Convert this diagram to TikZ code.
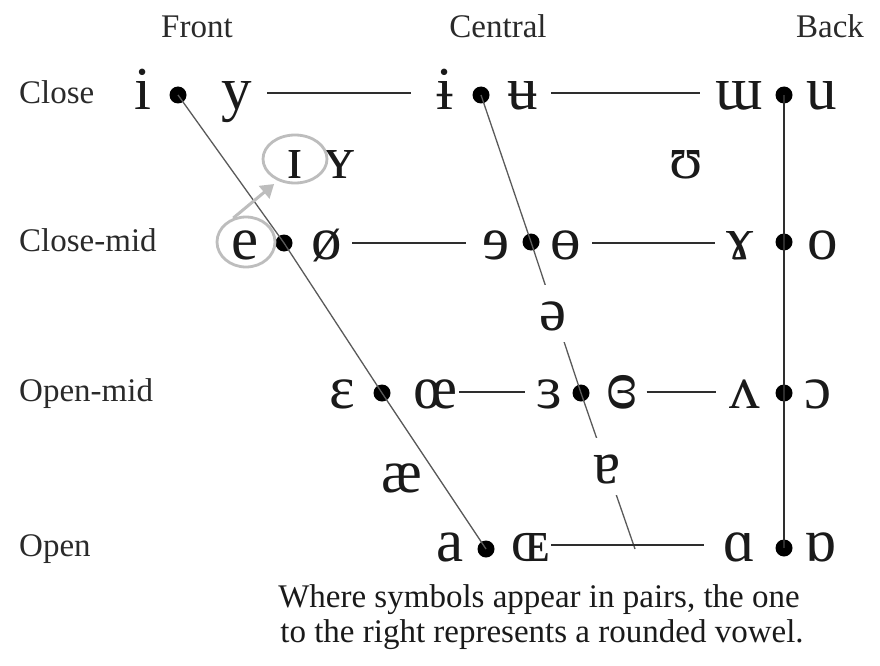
\documentclass[tikz,border=0pt]{standalone}
\usepackage{fontspec}
\setmainfont{Liberation Serif}
\usetikzlibrary{shapes.geometric,arrows.meta}
\definecolor{ink}{HTML}{1A1A1A}
\definecolor{labc}{HTML}{2A2A2A}
\definecolor{hlc}{HTML}{2E2E2E}
\definecolor{dgc}{HTML}{5A5A5A}
\definecolor{ringc}{HTML}{BDBDBD}
\begin{document}
\begin{tikzpicture}[x=1pt,y=-1pt,
  sym/.style={font=\fontsize{61}{61}\selectfont, text=ink, inner sep=0pt, text height=37pt, text depth=4pt, anchor=base},
  rowlab/.style={font=\fontsize{33}{33}\selectfont, text=labc, inner sep=0pt, anchor=base west},
  collab/.style={font=\fontsize{33}{33}\selectfont, text=labc, inner sep=0pt, anchor=base},
  note/.style={font=\fontsize{33}{33}\selectfont, text=ink, inner sep=0pt, anchor=base},
  vdot/.style={circle, fill=black, inner sep=0pt, minimum size=17pt},
  hline/.style={draw=hlc, line width=2pt},
  diag/.style={draw=dgc, line width=1.3pt},
  backline/.style={draw=hlc, line width=2.5pt},
  ring/.style={draw=ringc, line width=2.8pt, ellipse, inner sep=0pt},
  gapsym/.style={sym, fill=white, inner xsep=6pt, inner ysep=8pt}
]
\useasboundingbox (0,0) rectangle (880,666);
\fill[white] (0,0) rectangle (880,666);

% column and row labels
\node[collab] (front) at (197,38) {Front};
\node[collab] (central) at (498,38) {Central};
\node[collab] (back) at (830,38) {Back};
\node[rowlab] (close) at (19,103) {Close};
\node[rowlab] (closemid) at (19,251) {Close-mid};
\node[rowlab] (openmid) at (19,401) {Open-mid};
\node[rowlab] (open) at (19,556) {Open};

% dots
\node[vdot] (d1) at (178,95) {};
\node[vdot] (d2) at (481,95) {};
\node[vdot] (d3) at (784,95) {};
\node[vdot] (d4) at (284,243) {};
\node[vdot] (d5) at (531,242) {};
\node[vdot] (d6) at (784,242) {};
\node[vdot] (d7) at (382,393) {};
\node[vdot] (d8) at (581,393) {};
\node[vdot] (d9) at (784,393) {};
\node[vdot] (d10) at (486,549) {};
\node[vdot] (d11) at (784,548) {};
\coordinate (cend) at (635,549);

% skeleton lines
\draw[diag] (d1.center) -- (d4.center) -- (d7.center) -- (d10.center);
\draw[diag] (d2.center) -- (d5.center) -- (d8.center) -- (cend);
\draw[backline] (d3.center) -- (d11.center);

% close
\node[sym] (i) at (143,110) {i};
\node[sym] (y) at (237,110) {y};
\node[sym] (ibar) at (445,110) {ɨ};
\node[sym] (ubar) at (523,110) {ʉ};
\node[sym] (mu) at (739,110) {ɯ};
\node[sym] (u) at (822,110) {u};
% near-close
\node[sym] (smallI) at (295,178) {ɪ};
\node[sym] (smallY) at (340,178) {ʏ};
\node[sym] (upsilon) at (686,178) {ʊ};
% close-mid
\node[sym] (e) at (245,259) {e};
\node[sym] (oslash) at (327,259) {ø};
\node[sym] (revE) at (496,259) {ɘ};
\node[sym] (barO) at (566,259) {ɵ};
\node[sym] (gamma) at (740,259) {ɤ};
\node[sym] (o) at (823,259) {o};
% mid
\node[gapsym] (schwa) at (553,330) {ə};
% open-mid
\node[sym] (epsilon) at (342,408) {ɛ};
\node[sym] (oe) at (436,408) {œ};
\node[sym] (revEps) at (549,408) {ɜ};
\node[sym] (closedRevEps) at (622,408) {\scalebox{1.15}{ɞ}};
\node[sym] (wedge) at (745,408) {ʌ};
\node[sym] (openO) at (818,408) {ɔ};
% near-open
\node[sym] (ash) at (402,492) {æ};
\node[gapsym] (turnedA) at (607,483) {ɐ};
% open
\node[sym] (a) at (450,561) {a};
\node[sym] (OE) at (531,561) {ɶ};
\node[sym] (alpha) at (739,561) {ɑ};
\node[sym] (turnedAlpha) at (820,561) {ɒ};

% horizontal connectors
\draw[hline, shorten <=15pt, shorten >=25pt] (y.east) -- (ibar.west);
\draw[hline, shorten <=13pt, shorten >=15pt] (ubar.east) -- (mu.west);
\draw[hline, shorten <=10pt, shorten >=16pt] (oslash.east) -- (revE.west);
\draw[hline, shorten <=11pt, shorten >=11pt] (barO.east) -- (gamma.west);
\draw[hline, shorten <=1pt, shorten >=11pt] (oe.east) -- (revEps.west);
\draw[hline, shorten <=9pt, shorten >=14pt] (closedRevEps.east) -- (wedge.west);
\draw[hline, shorten <=1pt, shorten >=19pt] (OE.east) -- (alpha.west);

% highlight rings and arrow
\node[ring, minimum width=64pt, minimum height=48pt] (ringI) at (295,159) {};
\node[ring, minimum width=58pt, minimum height=50pt] (ringE) at (246,242) {};
\draw[draw=ringc, fill=ringc, line width=3pt, -{Triangle[width=16pt,length=13pt]}, shorten >=5pt] (ringE.118) -- (ringI.232);

% note
\node[note] (note1) at (539,607) {Where symbols appear in pairs, the one};
\node[note] (note2) at (542,642) {to the right represents a rounded vowel.};
\end{tikzpicture}
\end{document}
